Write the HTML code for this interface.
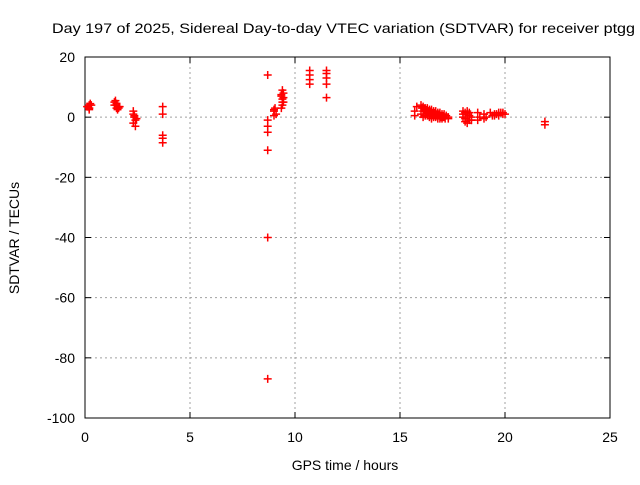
<!DOCTYPE html>
<html><head><meta charset="utf-8"><style>
body{margin:0;background:#fff;}
svg text{font-family:"Liberation Sans",sans-serif;font-size:14px;fill:#000;}
</style></head><body>
<svg id="chart" width="640" height="480" xmlns="http://www.w3.org/2000/svg">
<text x="52" y="33" textLength="583" lengthAdjust="spacingAndGlyphs">Day 197 of 2025, Sidereal Day-to-day VTEC variation (SDTVAR) for receiver ptgg</text>
<text x="345" y="470" text-anchor="middle">GPS time / hours</text>
<text transform="translate(19,238) rotate(-90)" text-anchor="middle">SDTVAR / TECUs</text>
<g id="grid"></g><g id="axes"></g><g id="marks"></g>
</svg>
<script>
const xTicks=[0,5,10,15,20,25];
const yTicks=[20,0,-20,-40,-60,-80,-100];
const hours=[0.2,0.2,0.2,0.25,0.15,0.2,0.3,0.1,1.4,1.5,1.5,1.6,1.45,1.55,1.5,1.6,1.4,1.65,2.3,2.3,2.35,2.4,2.3,2.4,2.35,2.45,3.7,3.7,3.7,3.7,3.7,
8.7,8.7,8.7,8.7,8.7,8.7,8.7,9.0,9.0,9.05,9.1,9.0,9.35,9.4,9.45,9.4,9.35,9.45,9.4,9.45,9.4,9.35,10.7,10.7,10.7,10.7,11.5,11.5,11.5,11.5,11.5,
15.7,15.7,15.8,16.0,16.1,16.2,16.3,16.4,16.5,16.6,16.7,16.8,16.9,17.0,17.1,17.2,17.3,16.0,16.2,16.4,16.6,16.8,17.0,16.1,16.3,16.5,16.7,16.9,17.1,17.3,
16.05,16.15,16.25,16.35,16.45,16.55,16.65,16.75,16.85,16.95,17.05,17.15,16.1,16.3,16.5,16.7,16.9,
18.0,18.1,18.2,18.3,18.4,18.1,18.2,18.3,18.0,18.4,18.0,18.2,18.4,18.1,18.3,18.7,18.8,18.7,19.0,19.1,19.0,19.3,19.5,19.7,19.9,19.4,19.6,19.8,20.0,19.5,19.7,19.9,21.9,21.9];
const values=[4,3,2.5,4.5,3.5,3,4,3.5,5,4,3,3.5,5.5,2.5,4.5,3,4,3.5,2,1,0,-1,-2,-3,0.5,-0.5,3.5,1,-6,-7,-8.5,
14,-11,-40,-87,-1,-3,-5,0.5,2,3,1,2.5,3,4,5,6,7,8,9,6.5,5,7.5,15.5,14,12.5,11,15.5,14.5,13,11,6.5,
0.5,2,3.5,4,3.5,3,3,2.5,2.5,2,2,1.5,1.5,1,1,0.5,0,1,0.5,0,0,-0.5,-0.5,2,1.5,1.5,1,0.5,0,-0.5,
3,2.5,2,2,1.5,1,1,0.5,0.5,0,0,-0.5,0,0.5,-0.5,0,-0.5,
2,1.5,1,0.5,-1,-1.5,-2,-1,0,-1,1,2,0,-0.5,1.5,1.5,0,-1,1,0,-0.5,1.5,1,1.5,1,0.5,1,1.5,1,0.5,0.5,1.5,-1.5,-2.5];
const L=85,R=610,T=57,B=418;
const sx=h=>L+(h-0)/25*(R-L);
const sy=v=>T+(20-v)/120*(B-T);
const NS="http://www.w3.org/2000/svg";
function mk(tag,attrs,parent){const e=document.createElementNS(NS,tag);for(const k in attrs)e.setAttribute(k,attrs[k]);parent.appendChild(e);return e;}
const grid=document.getElementById('grid'),axes=document.getElementById('axes'),marks=document.getElementById('marks');
xTicks.forEach(t=>{const x=sx(t);
 if(t>0&&t<25){const g=mk('line',{x1:x,x2:x,y1:T,y2:B,stroke:'#a0a0a0','stroke-dasharray':'2,3'},grid);
 
 }
 mk('line',{x1:x,x2:x,y1:B,y2:B-6,stroke:'#000'},axes);mk('line',{x1:x,x2:x,y1:T,y2:T+6,stroke:'#000'},axes);
 const tx=mk('text',{x:x,y:B+24,'text-anchor':'middle'},axes);tx.textContent=t;
 
 });
yTicks.forEach(t=>{const y=sy(t);
 if(t<20&&t>-100){const g=mk('line',{x1:L,x2:R,y1:y,y2:y,stroke:'#a0a0a0','stroke-dasharray':'2,3'},grid);
 
 }
 mk('line',{x1:L,x2:L+6,y1:y,y2:y,stroke:'#000'},axes);mk('line',{x1:R,x2:R-6,y1:y,y2:y,stroke:'#000'},axes);
 const tx=mk('text',{x:L-10,y:y+5,'text-anchor':'end'},axes);tx.textContent=t;
 
 });
const frame=mk('rect',{x:L,y:T,width:R-L,height:B-T,fill:'none',stroke:'#000'},axes);


hours.forEach((h,i)=>{const x=sx(h),y=sy(values[i]);
 const p=mk('path',{d:`M${x-4},${y}H${x+4}M${x},${y-4}V${y+4}`,stroke:'#ff0000','stroke-width':1.5,fill:'none'},marks);
 
 });
</script>
</body></html>
